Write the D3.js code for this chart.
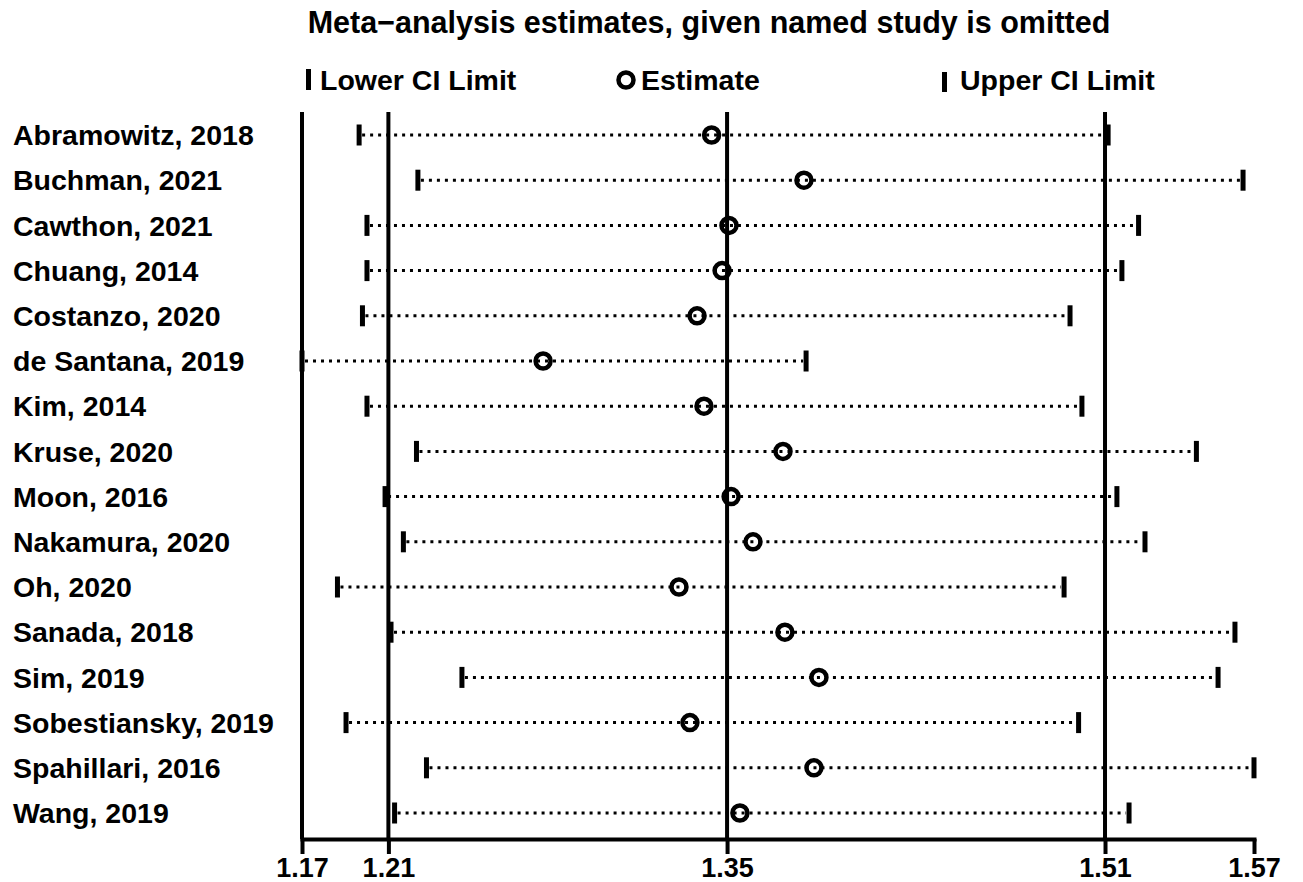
<!DOCTYPE html>
<html>
<head>
<meta charset="utf-8">
<script src="https://cdn.jsdelivr.net/npm/d3@7"></script>
<style>
  body { margin: 0; background: #fff; }
  text { font-family: "Liberation Sans", Arial, sans-serif; font-weight: bold; fill: #000; }
</style>
</head>
<body>
<div id="chart"></div>
<script>
let studies = ['Abramowitz, 2018','Buchman, 2021','Cawthon, 2021','Chuang, 2014','Costanzo, 2020',
	'de Santana, 2019','Kim, 2014','Kruse, 2020','Moon, 2016','Nakamura, 2020','Oh, 2020',
	'Sanada, 2018','Sim, 2019','Sobestiansky, 2019','Spahillari, 2016','Wang, 2019'];
let lower = [1.1940,1.2187,1.1973,1.1973,1.1954,1.1700,1.1973,1.2181,1.2049,1.2126,1.1849,1.2074,1.2372,1.1885,1.2223,1.2089];
let estimate = [1.3421,1.3809,1.3494,1.3465,1.3360,1.2713,1.3389,1.3721,1.3503,1.3595,1.3284,1.3729,1.3872,1.3330,1.3851,1.3540];
let upper = [1.5087,1.5654,1.5215,1.5145,1.4927,1.3818,1.4977,1.5458,1.5124,1.5242,1.4902,1.5620,1.5549,1.4963,1.5700,1.5175];
let tickVals = [1.1700,1.2063,1.3486,1.5074,1.5700];
let refLines = [1.1700,1.2063,1.3486,1.5074];

let width = 1303, height = 882;
let axisY = 839, topY = 112;

let x = d3.scaleLinear().domain([1.17, 1.57]).range([302, 1254]);
let y = d3.scalePoint().domain(studies).range([135, 813]);

let svg = d3.select('#chart').append('svg')
	.attr('width', width)
	.attr('height', height);

// title
svg.append('text')
	.attr('x', 709).attr('y', 33)
	.attr('text-anchor', 'middle')
	.style('font-size', '30.5px')
	.text('Meta\u2212analysis estimates, given named study is omitted');

// legend
let leg = svg.append('g');
leg.append('rect').attr('x', 306).attr('y', 69).attr('width', 5).attr('height', 21);
leg.append('text').attr('x', 320).attr('y', 90).style('font-size', '28.5px').text('Lower CI Limit');
leg.append('circle').attr('cx', 626).attr('cy', 80).attr('r', 7.5)
	.attr('fill', 'none').attr('stroke', '#000').attr('stroke-width', 4.5);
leg.append('text').attr('x', 641).attr('y', 90).style('font-size', '28.5px').text('Estimate');
leg.append('rect').attr('x', 942).attr('y', 72).attr('width', 5).attr('height', 20);
leg.append('text').attr('x', 960).attr('y', 90).style('font-size', '28.5px').text('Upper CI Limit');

// reference lines
svg.selectAll('.ref')
	.data(refLines)
	.enter().append('line')
		.attr('x1', d => x(d)).attr('x2', d => x(d))
		.attr('y1', topY).attr('y2', axisY)
		.attr('stroke', '#000').attr('stroke-width', 4);

// x axis
let xAxis = d3.axisBottom(x)
	.tickValues(tickVals)
	.tickFormat(d3.format('.2f'))
	.tickSize(15)
	.tickSizeOuter(0);
let ax = svg.append('g')
	.attr('transform', 'translate(0,' + axisY + ')')
	.call(xAxis);
ax.select('.domain').attr('stroke', '#000').attr('stroke-width', 4).attr('stroke-linecap', 'square');
ax.selectAll('.tick line').attr('stroke', '#000').attr('stroke-width', 4);
ax.selectAll('.tick text')
	.attr('y', 19)
	.attr('dy', '0.71em')
	.style('font-size', '27px')
	.style('font-family', '"Liberation Sans", Arial, sans-serif')
	.style('font-weight', 'bold')
	.attr('fill', '#000');

// rows
let rows = svg.selectAll('.row')
	.data(studies)
	.enter().append('g')
		.attr('transform', d => 'translate(0,' + y(d) + ')');

rows.append('text')
	.attr('x', 13).attr('dy', '0.36em')
	.style('font-size', '28.5px')
	.text(d => d);

rows.append('line')
	.attr('x1', (d, i) => x(lower[i]) + 3)
	.attr('x2', (d, i) => x(upper[i]) - 3)
	.attr('stroke', '#000')
	.attr('stroke-width', 3)
	.attr('stroke-dasharray', '3 5');

rows.append('rect')
	.attr('x', (d, i) => x(lower[i]) - 2.5)
	.attr('y', -10.5)
	.attr('width', 5).attr('height', 21);

rows.append('rect')
	.attr('x', (d, i) => x(upper[i]) - 2.5)
	.attr('y', -10.5)
	.attr('width', 5).attr('height', 21);

rows.append('circle')
	.attr('cx', (d, i) => x(estimate[i]))
	.attr('r', 7.5)
	.attr('fill', 'none')
	.attr('stroke', '#000')
	.attr('stroke-width', 4.5);
</script>
</body>
</html>
